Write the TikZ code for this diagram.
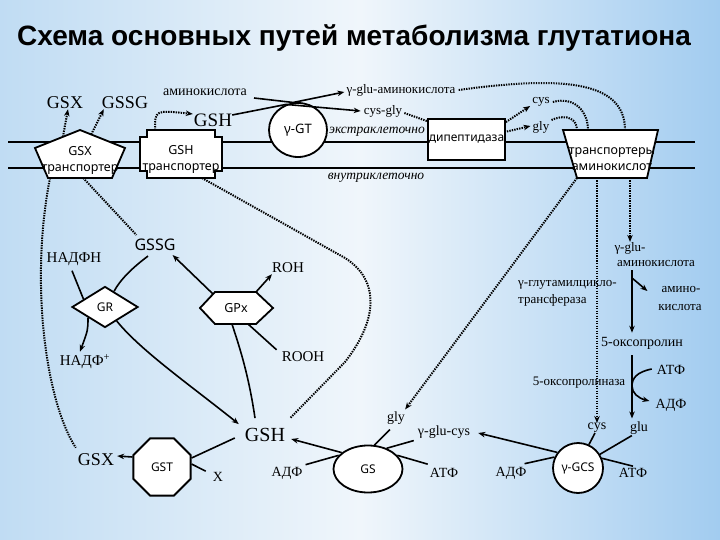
\documentclass[tikz,border=0pt]{standalone}
\usepackage{fontspec}
\setmainfont{Liberation Serif}
\newfontfamily\sansf{Noto Sans}
\newfontfamily\titlef{Liberation Sans}
\usetikzlibrary{shapes.geometric,arrows.meta,calc}
\definecolor{bgL}{RGB}{192,220,243}
\definecolor{bgM}{RGB}{240,246,251}
\definecolor{bgR}{RGB}{162,204,240}
\tikzset{
 lblS/.style={font=\fontsize{13}{15}\selectfont, inner sep=0pt},
 lblM/.style={font=\fontsize{14}{16}\selectfont, inner sep=0pt},
 lblN/.style={font=\fontsize{15}{17}\selectfont, inner sep=0pt},
 lblB/.style={font=\fontsize{18}{20}\selectfont, inner sep=0pt},
 ital/.style={font=\itshape\fontsize{13.5}{15}\selectfont, inner sep=0pt},
 enz/.style={draw, line width=1.8pt, fill=white, font=\sansf\fontsize{12}{15}\selectfont, inner sep=0pt},
 enzt/.style={font=\sansf\fontsize{12.5}{16}\selectfont, inner sep=0pt, align=center},
 shapeline/.style={line width=1.8pt, fill=white, line join=miter},
 mem/.style={line width=1.8pt},
 rx/.style={line width=1.6pt},
 rxa/.style={line width=1.6pt, -{Stealth[length=7pt,width=5.5pt]}},
 tr/.style={line width=2pt, dash pattern=on 1.4pt off 1.1pt},
 tra/.style={tr, -{Stealth[length=7pt,width=5.5pt]}},
}
\begin{document}
\begin{tikzpicture}[x=1pt,y=-1pt]
\useasboundingbox (0,0) rectangle (720,540);
\shade[left color=bgL, right color=bgR, middle color=bgM] (0,0) rectangle (720,540);

\node[font=\titlef\bfseries\fontsize{28}{32}\selectfont, anchor=west, inner sep=0pt] (title) at (17,38) {Схема основных путей метаболизма глутатиона};

% membranes
\coordinate (m1a) at (8,142); \coordinate (m1b) at (695,142);
\coordinate (m2a) at (8,168); \coordinate (m2b) at (695,168);
\draw[mem] (m1a) -- (m1b);
\draw[mem] (m2a) -- (m2b);

% GSX transporter (pentagon)
\coordinate (p1) at (80,130); \coordinate (p2) at (125,148); \coordinate (p3) at (112,178);
\coordinate (p4) at (48,178); \coordinate (p5) at (35,148);
\draw[shapeline] (p1) -- (p2) -- (p3) -- (p4) -- (p5) -- cycle;
\node[enzt] (gsxt) at (80,160) {GSX\\транспортер};

% GSH transporter (notched box)
\draw[shapeline] (147,130) -- (215,130) -- (215,137) -- (222,137) -- (222,171) -- (215,171) -- (215,178)
  -- (147,178) -- (147,171) -- (140,171) -- (140,137) -- (147,137) -- cycle;
\node[enzt] (gsht) at (181,159) {GSH\\транспортер};
\coordinate (gshtop) at (155,130);
\coordinate (gshbot) at (202,178);

% dipeptidase, gamma-GT
\node[enz, minimum width=77, minimum height=41] (dip) at (466.5,139.5) {дипептидаза};
\node[enz, ellipse, minimum width=58, minimum height=54, font=\sansf\fontsize{13}{15}\selectfont] (ggt) at (298,130) {γ-GT};

% amino acid transporters (trapezoid)
\coordinate (t0) at (577,130); \coordinate (t1) at (588,130); \coordinate (t2) at (625,130);
\coordinate (b1) at (577,178); \coordinate (b2) at (597,178); \coordinate (b3) at (630,178);
\draw[shapeline] (563,130) -- (658,130) -- (647,178) -- (577,178) -- cycle;
\node[enzt] (aat) at (612,159) {транспортеры\\аминокислот};

% top labels
\node[lblB] (lgsx) at (65,103) {GSX};
\node[lblB] (lgssg) at (125,103) {GSSG};
\node[lblM] (laa) at (205,92) {аминокислота};
\node[font=\fontsize{19}{21}\selectfont, inner sep=0pt] (lgsh) at (213,120) {GSH};
\node[lblS] (lgglu) at (401,90) {γ-glu-аминокислота};
\node[lblS] (lcysgly) at (383,111) {cys-gly};
\node[ital] (lext) at (377,132) {экстраклеточно};
\node[ital] (lint) at (376,178) {внутриклеточно};
\node[lblS] (lcys) at (541,102) {cys};
\node[lblS] (lgly) at (541,127) {gly};
\coordinate (aa1) at (254,98);

% right column
\node[lblS] (lgglu2) at (630,248) {γ-glu-};
\node[lblS] (laa2) at (656,264) {аминокислота};
\node[lblS] (lamino) at (681,290) {амино-};
\node[lblS] (lkisl) at (680,307) {кислота};
\node[lblS, anchor=west] (lggct1) at (518,285) {γ-глутамилцикло-};
\node[lblS, anchor=west] (lggct2) at (518,300) {трансфераза};
\node[lblM] (l5op) at (642,343) {5-оксопролин};
\node[lblM] (latp1) at (671,370) {АТФ};
\node[lblS] (l5opase) at (579,383) {5-оксопролиназа};
\node[lblM] (ladp1) at (671,405) {АДФ};
\node[lblM] (lcys2) at (597,428) {cys};
\node[lblM] (lglu) at (639,428) {glu};
\node[enz, circle, minimum size=50] (gcs) at (578,468) {γ-GCS};
\node[lblM] (latp2) at (633,473) {АТФ};
\node[lblM] (ladp2) at (511,473) {АДФ};
\node[lblM] (lggc) at (444,432) {γ-glu-cys};
\node[lblM] (lgly2) at (396,418) {gly};
\node[enz, ellipse, minimum width=69, minimum height=47] (gs) at (368,469) {GS};
\node[lblM] (latp3) at (444,473) {АТФ};
\node[lblM] (ladp3) at (287,473) {АДФ};
\node[font=\fontsize{20}{22}\selectfont, inner sep=0pt] (lgsh2) at (265,435) {GSH};
\node[enz, regular polygon, regular polygon sides=8, minimum size=62] (gst) at (162,467) {GST};
\node[lblB] (lgsx2) at (96,460) {GSX};
\node[lblM] (lx) at (218,477) {X};

% middle left
\node[font=\sansf\fontsize{16}{18}\selectfont, inner sep=0pt] (lgssg2) at (155,245) {GSSG};
\node[lblN] (lnadph) at (74,259) {НАДФН};
\node[lblN] (lnadp) at (85,362) {НАДФ\textsuperscript{+}};
\node[enz, diamond, minimum width=66, minimum height=41] (gr) at (105,307) {GR};
\coordinate (x1) at (200,308); \coordinate (x2) at (215,292); \coordinate (x3) at (256,292);
\coordinate (x4) at (273,308); \coordinate (x5) at (256,324); \coordinate (x6) at (215,324);
\draw[shapeline] (x1) -- (x2) -- (x3) -- (x4) -- (x5) -- (x6) -- cycle;
\node[enzt] (gpx) at (236,308) {GPx};
\node[lblN] (lroh) at (288,268) {ROH};
\node[lblN] (lrooh) at (303,357) {ROOH};

% ---------- connectors ----------
% GSX transporter
\draw[tra] ($(p5)!0.62!(p1)$) -- ($(lgsx.south)+(3,0)$);
\draw[tra] ($(p1)!0.25!(p2)$) -- ($(lgssg.south west)+(2,0)$);
\draw[tr] ($(p4)+(2,0)$) .. controls (30,280) and (45,400) .. ($(lgsx2.north west)+(-2,-6)$);
\draw[tr] ($(p4)!0.55!(p3)$) -- ($(lgssg2.north west)+(2,-4)$);
% GSH transporter
\draw[tra] (gshtop) .. controls (155,110) .. ($(lgsh.west)+(-1,-6)$);
\draw[tr] (gshbot) -- (345,258) .. controls (380,280) and (378,320) .. (345,362) -- ($(lgsh2.north east)+(5,-10)$);
% gamma-GT
\draw[rxa] ($(lgsh.east)+(0,-5)$) -- (ggt.115) -- ($(lcysgly.west)+(-3,0)$);
\draw[rxa] (aa1) -- (ggt.100) -- ($(lgglu.west)+(-2,2)$);
% dipeptidase
\draw[tr] ($(lcysgly.east)+(2,2)$) -- ($(dip.north west)+(0,3)$);
\draw[tra] ($(dip.north east)+(0,4)$) -- ($(lcys.west)+(-2,4)$);
\draw[tra] ($(dip.east)+(1,-8)$) -- ($(lgly.west)+(-2,-1)$);
% into amino acid transporters
\draw[tr] ($(lcys.east)+(3,0)$) .. controls (575,96) and (588,112) .. (t1);
\draw[tr] ($(lgly.east)+(2,-7)$) .. controls (568,113) and (577,120) .. (t0);
\draw[tr] ($(lgglu.east)+(3,0)$) .. controls (560,76) and (625,80) .. (t2);
% out of amino acid transporters
\draw[tra] (b1) -- ($(lgly2.north east)+(0,-2)$);
\draw[tra] (b2) -- (lcys2.north);
\draw[tra] (b3) -- (lgglu2.north);
% right column
\coordinate (c1) at (632,270);
\coordinate (c2) at (632,278);
\coordinate (c4) at (632,355);
\draw[rxa] (c1) -- ($(c1 |- l5op.north)+(0,-4)$);
\draw[rxa] (c2) -- ($(lamino.west)+(-14,1)$);
\draw[rxa] (c4) -- ($(c4 |- lglu.north)+(0,-3)$);
\draw[rxa] ($(latp1.west)+(-5,-1)$) .. controls (637,372) and (632,378) .. (632,386)
   .. controls (632,393) and (638,398) .. ($(ladp1.west)+(-6,-4)$);
% gamma-GCS
\draw[rx] ($(lcys2.south)+(-2,0)$) -- (gcs.65);
\draw[rx] ($(lglu.south west)+(2,1)$) -- (gcs.32);
\draw[rx] ($(latp2.north)+(0,-2)$) -- (gcs.22);
\draw[rx] ($(ladp2.north east)+(-2,-3)$) -- (gcs.155);
\draw[rxa] (gcs.143) -- ($(lggc.east)+(8,1)$);
% GS
\draw[rx] ($(lgly2.south)+(-6,5)$) -- (gs.75);
\draw[rx] ($(lggc.south west)+(-4,2)$) -- (gs.48);
\draw[rx] ($(latp3.north west)+(-2,-4)$) -- (gs.25);
\draw[rx] ($(ladp3.north east)+(3,-2)$) -- (gs.155);
\draw[rxa] (gs.148) -- ($(lgsh2.east)+(6,4)$);
% GST
\draw[rx] ($(lgsh2.west)+(-10,3)$) -- ($(gst.east)+(0,-9)$);
\draw[rx] ($(lx.north west)+(-7,-1)$) -- ($(gst.east)+(0,-3)$);
\draw[rxa] ($(gst.west)+(0,-10)$) -- ($(lgsx2.east)+(3,-4)$);
% GR
\draw[rx] ($(lnadph.south)+(-2,5)$) -- (gr.160);
\draw[rxa] (gr.212) .. controls (88,330) .. ($(lnadp.north)+(-5,-3)$);
\draw[rx] ($(lgssg2.south)+(-7,5)$) .. controls (132,268) and (120,280) .. (gr.60);
\draw[rxa] (gr.-50) .. controls (140,350) and (190,385) .. ($(lgsh2.north west)+(-6,-4)$);
% GPx
\draw[rxa] ($(x2)+(-2,2)$) -- ($(lgssg2.south east)+(-3,4)$);
\draw[rxa] (x3) -- ($(lroh.south west)+(0,1)$);
\draw[rx] ($(lrooh.north west)+(-5,-2)$) -- ($(x5)+(-8,0)$);
\draw[rx] ($(lgsh2.north)+(-10,-10)$) .. controls (248,370) and (237,340) .. ($(x6)+(17,0)$);
\end{tikzpicture}
\end{document}
